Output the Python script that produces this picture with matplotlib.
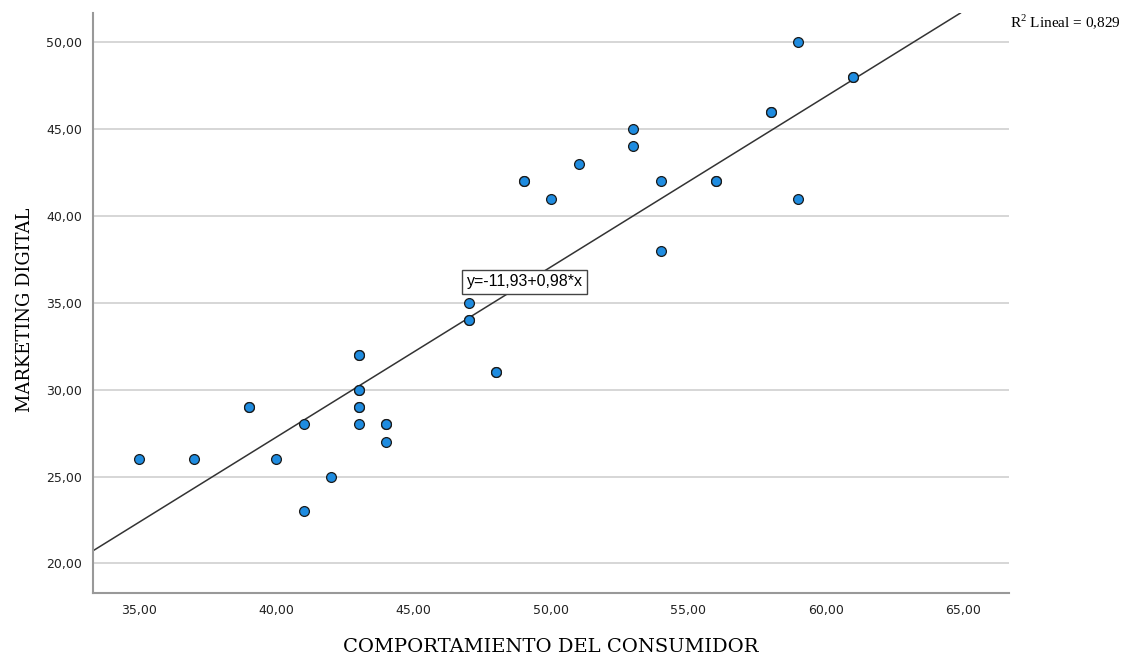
import matplotlib
matplotlib.use('Agg')
import matplotlib.pyplot as plt

# datos (los repetidos salen con borde mas grueso)
comportamiento = [35, 37, 39, 39, 40, 41, 41, 42, 43, 43, 43, 43, 43, 43, 43,
                  44, 44, 44, 47, 47, 47, 48, 48, 49, 49, 50, 51, 53, 53, 54,
                  54, 56, 56, 58, 58, 59, 59, 61, 61]
marketing = [26, 26, 29, 29, 26, 28, 23, 25, 32, 32, 30, 30, 29, 29, 28,
             28, 28, 27, 35, 34, 34, 31, 31, 42, 42, 41, 43, 45, 44, 42,
             38, 42, 42, 46, 46, 50, 41, 48, 48]
intercepto = -11.93
pendiente = 0.98
r2 = 0.829
xticks = [35, 40, 45, 50, 55, 60, 65]
yticks = [20, 25, 30, 35, 40, 45, 50]

plt.rcParams['mathtext.fontset'] = 'custom'
plt.rcParams['mathtext.rm'] = 'Liberation Serif'

fig = plt.figure(figsize=(11.39, 6.54), dpi=100)
ax = fig.add_axes([0.0817, 0.094, 0.8042, 0.886])

ax.set_xlim(33.33, 66.67)
ax.set_ylim(18.33, 51.67)

ax.set_axisbelow(True)
ax.yaxis.grid(True, color='#d3d3d3', lw=1.3)
ax.set_xticks(xticks)
ax.set_yticks(yticks)
ax.set_xticklabels([f'{v:.2f}'.replace('.', ',') for v in xticks])
ax.set_yticklabels([f'{v:.2f}'.replace('.', ',') for v in yticks])
ax.tick_params(length=0, labelsize=9, colors='#222222', pad=8)

for s in ['top', 'right']:
    ax.spines[s].set_visible(False)
for s in ['left', 'bottom']:
    ax.spines[s].set_color('#999999')
    ax.spines[s].set_linewidth(1.5)

# recta de ajuste
ax.axline((0, intercepto), slope=pendiente, color='#333333', lw=1.1, zorder=2)

ax.scatter(comportamiento, marketing, s=50, c='#1f8ce0', edgecolors='#1a1a1a',
           linewidths=0.9, zorder=3)

ecuacion = f'y={intercepto:.2f}+{pendiente:.2f}*x'.replace('.', ',')
ax.text(46.93, 36.21, ecuacion, family='Liberation Sans',
        fontsize=11.5, ha='left', va='center', zorder=4,
        bbox=dict(boxstyle='square,pad=0.28', fc='white', ec='#444444', lw=1))

fig.text(0.887, 0.958, 'R$^{2}$ Lineal = ' + f'{r2:.3f}'.replace('.', ','),
         family='Liberation Serif', fontsize=11, ha='left', va='baseline')

fig.text(551 / 1139, 2 / 654, 'COMPORTAMIENTO DEL CONSUMIDOR',
         family='DejaVu Serif', fontsize=14, ha='center', va='baseline')
fig.text(30 / 1139, (654 - 310) / 654, 'MARKETING DIGITAL',
         family='DejaVu Serif', fontsize=13, ha='center', va='baseline',
         rotation=90, rotation_mode='anchor')

fig.savefig('out.png', dpi=100)
